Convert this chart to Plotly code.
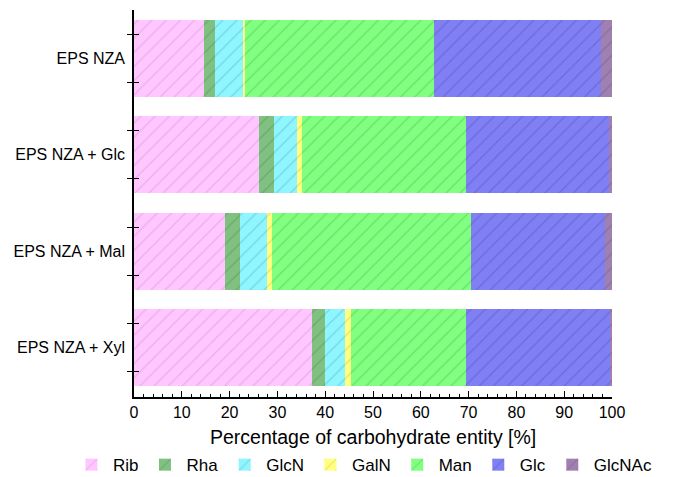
import plotly.graph_objects as go

samples = ["EPS NZA", "EPS NZA + Glc", "EPS NZA + Mal", "EPS NZA + Xyl"]
sugars = ["Rib", "Rha", "GlcN", "GalN", "Man", "Glc", "GlcNAc"]

rib = [14.6, 26.1, 19.0, 37.3]
rha = [2.3, 3.2, 3.2, 2.7]
glcn = [6.0, 4.9, 5.7, 4.1]
galn = [0.3, 1.0, 0.9, 1.2]
man = [39.6, 34.3, 41.8, 24.1]
glc = [35.0, 29.9, 27.9, 30.2]
glcnac = [2.2, 0.6, 1.5, 0.4]

series = [rib, rha, glcn, galn, man, glc, glcnac]
fills = ["#ffc6ff", "#80c080", "#8ff5ff", "#ffff80", "#80ff80", "#8080f4", "#a080b0"]
hatch = ["#d49ae0", "#5a965a", "#5cbccc", "#d0c850", "#58c458", "#5858c0", "#7c5c8c"]

ypos = list(range(len(samples)))

fig = go.Figure()
for name, vals, fc, hc in zip(sugars, series, fills, hatch):
    fig.add_trace(go.Bar(
        name=name, y=ypos, x=vals, orientation="h", width=0.8,
        marker=dict(color=fc, line=dict(width=0),
                    pattern=dict(shape="/", fgcolor=hc, bgcolor=fc,
                                 size=10, solidity=0.14, fillmode="overlay")),
    ))

W, H = 669, 469
font = "Liberation Sans, Arial, sans-serif"
fig.update_layout(
    barmode="stack",
    width=W, height=H,
    margin=dict(l=126, r=65, t=2, b=80, autoexpand=False),
    plot_bgcolor="white", paper_bgcolor="white",
    font=dict(family=font, size=16, color="black"),
    showlegend=True,
    legend=dict(orientation="h", xref="paper", yref="paper",
                x=-0.134, xanchor="left", y=-0.176, yanchor="middle",
                font=dict(size=17), itemwidth=33, traceorder="normal",
                itemsizing="constant", tracegroupgap=0),
    bargap=0.2,
)
fig.update_xaxes(
    range=[0, 100], tickvals=list(range(0, 101, 10)), ticks="inside", ticklen=6,
    tickwidth=1, tickcolor="black", showline=True, linecolor="black", linewidth=1.5,
    showgrid=False, zeroline=False, tickfont=dict(size=16), automargin=False,
    minor=dict(dtick=2, ticks="inside", ticklen=3, tickcolor="black"),
)
fig.add_annotation(
    text="Percentage of carbohydrate entity [%]", xref="paper", yref="paper",
    x=0.5, y=-0.1034, xanchor="center", yanchor="middle", showarrow=False,
    font=dict(size=19.5),
)
fig.update_yaxes(
    range=[3.51, -0.5], tickvals=ypos, ticktext=samples, ticks="", ticklen=0,
    showline=True, linecolor="black", linewidth=1.5, showgrid=False, zeroline=False,
    tickfont=dict(size=16), automargin=False, ticklabelstandoff=4,
    minor=dict(tick0=0.25, dtick=0.5, ticks="outside", ticklen=5, tickcolor="black"),
)
fig.add_trace(go.Scatter(x=[None], y=[None], yaxis="y2", showlegend=False))
fig.update_layout(yaxis2=dict(
    overlaying="y", range=[3.51, -0.5], showticklabels=False, ticks="", showgrid=False,
    zeroline=False, showline=False,
    minor=dict(tick0=0.25, dtick=0.5, ticks="inside", ticklen=5, tickcolor="black"),
))

fig.write_html("out.html")
